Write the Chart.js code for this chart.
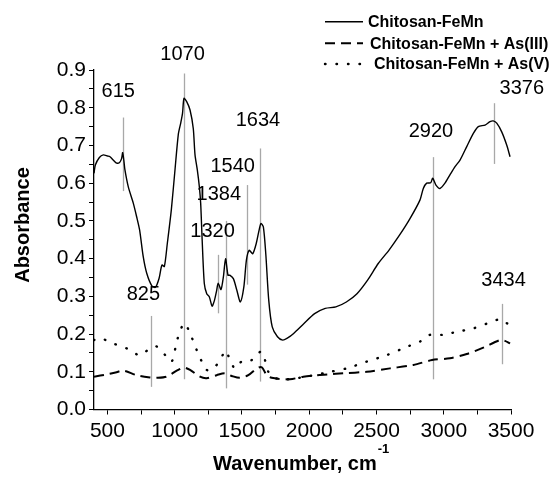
<!DOCTYPE html>
<html>
<head>
<meta charset="utf-8">
<script src="https://cdn.jsdelivr.net/npm/chart.js@4.4.0/dist/chart.umd.min.js"></script>
<style>
html,body{margin:0;padding:0;background:#fff;}
#wrap{width:553px;height:479px;}
</style>
</head>
<body>
<div id="wrap"><canvas id="c" width="553" height="479"></canvas></div>
<script>
// ---- data ----
const seriesNames = ['Chitosan-FeMn', 'Chitosan-FeMn + As(III)', 'Chitosan-FeMn + As(V)'];

const solidWn  = [400,410,440,469,500,519,544,569,590,605,613,622,630,655,692,717,739,766,792,831,857,884,905,923,945,975,1002,1027,1045,1058,1069,1089,1114,1138,1151,1168,1183,1193,1204,1220,1238,1257,1278,1296,1312,1323,1344,1362,1378,1396,1409,1436,1462,1488,1514,1533,1554,1580,1606,1627,1641,1659,1677,1699,1725,1764,1803,1840,1882,1961,2040,2119,2198,2276,2355,2434,2513,2592,2671,2749,2823,2848,2873,2903,2918,2942,2972,3009,3046,3084,3121,3171,3220,3257,3307,3344,3368,3394,3431,3468,3493];
const solidAbs = [0.626,0.648,0.668,0.675,0.672,0.670,0.661,0.653,0.655,0.665,0.681,0.660,0.635,0.590,0.547,0.511,0.476,0.405,0.361,0.327,0.324,0.348,0.383,0.379,0.440,0.530,0.635,0.730,0.760,0.785,0.825,0.816,0.794,0.745,0.675,0.635,0.591,0.547,0.450,0.334,0.307,0.299,0.274,0.290,0.316,0.335,0.318,0.352,0.400,0.356,0.356,0.347,0.316,0.285,0.325,0.396,0.422,0.413,0.440,0.475,0.493,0.484,0.413,0.290,0.219,0.193,0.184,0.190,0.201,0.228,0.254,0.268,0.272,0.285,0.307,0.343,0.387,0.422,0.462,0.506,0.555,0.586,0.600,0.601,0.613,0.595,0.586,0.600,0.622,0.644,0.661,0.697,0.732,0.750,0.754,0.763,0.765,0.759,0.736,0.701,0.670];

const as3Wn  = [400,494,560,618,717,816,866,940,1015,1069,1114,1188,1238,1312,1374,1424,1485,1547,1610,1647,1684,1721,1783,1857,1956,2056,2142,2253,2427,2600,2774,2913,3046,3171,3294,3418,3455,3493];
const as3Abs = [0.087,0.093,0.098,0.103,0.091,0.085,0.084,0.087,0.103,0.111,0.105,0.087,0.083,0.091,0.096,0.089,0.084,0.091,0.109,0.112,0.091,0.084,0.081,0.080,0.087,0.091,0.093,0.096,0.100,0.109,0.118,0.131,0.136,0.147,0.164,0.184,0.182,0.175];

const as5Wn  = [400,445,543,643,742,816,866,940,978,1015,1039,1071,1114,1163,1238,1287,1337,1379,1411,1448,1485,1535,1572,1610,1647,1671,1696,1733,1807,1907,2006,2130,2278,2427,2576,2725,2823,2898,2997,3096,3220,3331,3418,3468,3493];
const as5Abs = [0.184,0.189,0.175,0.162,0.144,0.162,0.167,0.140,0.127,0.180,0.206,0.229,0.202,0.158,0.105,0.109,0.131,0.156,0.131,0.109,0.124,0.133,0.131,0.147,0.153,0.131,0.100,0.085,0.080,0.083,0.089,0.098,0.109,0.127,0.144,0.166,0.180,0.198,0.198,0.206,0.215,0.229,0.239,0.229,0.224];

// peak markers
const peakLabels = ['615','1070','825','1320','1384','1540','1634','2920','3376','3434'];
const peakWn     = [615,1070,825,1320,1384,1540,1634,2920,3376,3434];
const peakTop    = [0.774,0.891,0.248,0.410,0.500,0.595,0.692,0.669,0.812,0.280];
const peakBottom = [0.579,0.080,0.060,0.255,0.056,0.331,0.074,0.080,0.651,0.120];
const labelWn    = [580,1058,767,1281,1328,1431,1619,2905,3580,3445];
const labelAbs   = [0.843,0.940,0.304,0.473,0.569,0.645,0.767,0.736,0.852,0.343];

// ticks
const xMajorTicks = [500,1000,1500,2000,2500,3000,3500];
const xMinorTicks = [750,1250,1750,2250,2750,3250];
const yMajorTicks = [0.0,0.1,0.2,0.3,0.4,0.5,0.6,0.7,0.8,0.9];
const yMinorTicks = [0.05,0.15,0.25,0.35,0.45,0.55,0.65,0.75,0.85];

const xTitle = 'Wavenumber, cm';
const xTitleSup = '-1';
const yTitle = 'Absorbance';

// ---- chart ----
const FONT = '"Liberation Sans", Arial, Helvetica, sans-serif';
Chart.defaults.font.family = FONT;
Chart.defaults.color = '#000';

const toPts = (xs, ys) => xs.map((x, i) => ({x: x, y: ys[i]}));

const peakPlugin = {
  id: 'peaks',
  beforeDatasetsDraw(chart) {
    const {ctx, scales: {x, y}} = chart;
    ctx.save();
    ctx.strokeStyle = '#a8a8a8';
    ctx.lineWidth = 1.3;
    for (let i = 0; i < peakWn.length; i++) {
      const px = Math.round(x.getPixelForValue(peakWn[i])) + 0.5;
      ctx.beginPath();
      ctx.moveTo(px, y.getPixelForValue(peakTop[i]));
      ctx.lineTo(px, y.getPixelForValue(peakBottom[i]));
      ctx.stroke();
    }
    ctx.restore();
  },
  afterDraw(chart) {
    const {ctx, scales: {x, y}} = chart;
    ctx.save();
    ctx.fillStyle = '#000';
    ctx.font = '20px ' + FONT;
    ctx.textAlign = 'center';
    ctx.textBaseline = 'middle';
    for (let i = 0; i < peakLabels.length; i++) {
      ctx.fillText(peakLabels[i], x.getPixelForValue(labelWn[i]), y.getPixelForValue(labelAbs[i]));
    }
    // axis titles
    ctx.font = 'bold 20px ' + FONT;
    ctx.textAlign = 'left';
    ctx.textBaseline = 'alphabetic';
    ctx.fillText(xTitle, 213, 470);
    const w = ctx.measureText(xTitle).width;
    ctx.font = 'bold 13px ' + FONT;
    ctx.fillText(xTitleSup, 213 + w + 1, 453);
    ctx.save();
    ctx.translate(28.5, 225);
    ctx.rotate(-Math.PI / 2);
    ctx.font = 'bold 20px ' + FONT;
    ctx.textAlign = 'center';
    ctx.fillText(yTitle, 0, 0);
    ctx.restore();
    // legend
    const rows = [21.7, 43.3, 64];
    const textX = [368, 370, 374];
    const ds = chart.data.datasets;
    ctx.font = 'bold 16px ' + FONT;
    ctx.textAlign = 'left';
    ctx.textBaseline = 'middle';
    for (let i = 0; i < 3; i++) {
      ctx.save();
      ctx.strokeStyle = '#000';
      ctx.lineWidth = ds[i].borderWidth;
      ctx.setLineDash(ds[i].borderDash || []);
      ctx.lineCap = ds[i].borderCapStyle || 'butt';
      ctx.beginPath();
      ctx.moveTo(325, rows[i]);
      ctx.lineTo(363, rows[i]);
      ctx.stroke();
      ctx.restore();
      ctx.fillText(seriesNames[i], textX[i], rows[i] + 1);
    }
    ctx.restore();
  }
};

new Chart(document.getElementById('c'), {
  type: 'line',
  data: {
    datasets: [
      {label: seriesNames[0], data: toPts(solidWn, solidAbs), borderColor: '#000', borderWidth: 1.4, pointRadius: 0, tension: 0.25, fill: false},
      {label: seriesNames[1], data: toPts(as3Wn, as3Abs), borderColor: '#000', borderWidth: 2, borderDash: [10, 6], pointRadius: 0, tension: 0.3, fill: false},
      {label: seriesNames[2], data: toPts(as5Wn, as5Abs), borderColor: '#000', borderWidth: 2.4, borderDash: [0.5, 11], borderCapStyle: 'round', pointRadius: 0, tension: 0.3, fill: false}
    ]
  },
  options: {
    responsive: false,
    animation: false,
    layout: {padding: {left: 0, top: 70, right: 42, bottom: 0}},
    plugins: {legend: {display: false}, tooltip: {enabled: false}, title: {display: false}},
    scales: {
      x: {
        type: 'linear', min: 400, max: 3500,
        afterBuildTicks: (s) => { s.ticks = xMajorTicks.concat(xMinorTicks).sort((a,b)=>a-b).map(v => ({value: v})); },
        afterFit: (s) => { s.height = 69.5; },
        ticks: {
          font: {size: 21}, color: '#000', padding: 4, maxRotation: 0, autoSkip: false,
          callback: (v) => xMajorTicks.includes(v) ? String(v) : ''
        },
        grid: {display: true, drawOnChartArea: false, drawTicks: true, tickLength: 5, color: '#000', lineWidth: 1},
        border: {display: true, color: '#000', width: 1.3}
      },
      y: {
        type: 'linear', min: 0, max: 0.9,
        afterBuildTicks: (s) => { s.ticks = yMajorTicks.concat(yMinorTicks).sort((a,b)=>a-b).map(v => ({value: v})); },
        afterFit: (s) => { s.width = 94; },
        ticks: {
          font: {size: 21}, color: '#000', padding: 3, autoSkip: false,
          callback: (v) => yMajorTicks.some(t => Math.abs(t - v) < 1e-6) ? v.toFixed(1) : ''
        },
        grid: {display: true, drawOnChartArea: false, drawTicks: true, tickLength: 5, color: '#000', lineWidth: 1},
        border: {display: true, color: '#000', width: 1.3}
      }
    }
  },
  plugins: [peakPlugin]
});
</script>
</body>
</html>
